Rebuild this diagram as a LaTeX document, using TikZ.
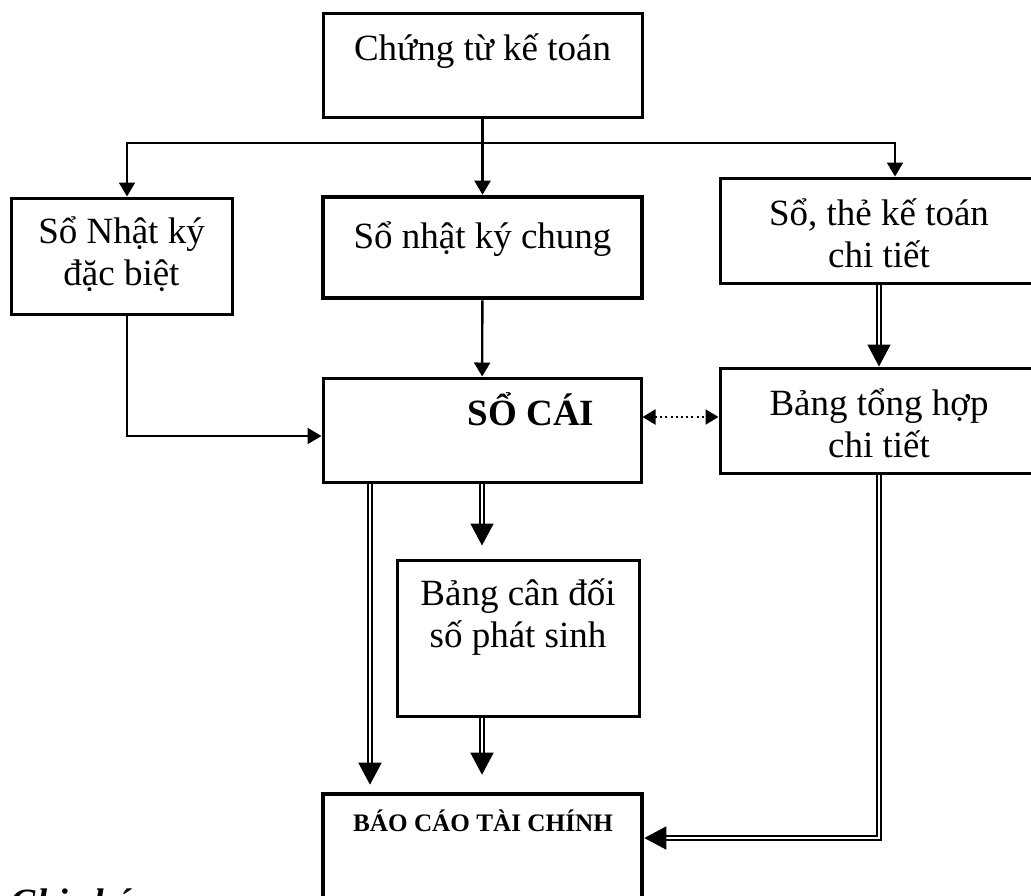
\documentclass[tikz,border=0pt]{standalone}
\usepackage{fontspec}
\setmainfont{Liberation Serif}
\usetikzlibrary{arrows.meta}
\newcommand\boxsize{\fontsize{18.5pt}{21pt}\selectfont}

\begin{document}
\begin{tikzpicture}[x=.5pt,y=-.5pt,line join=miter,
  box/.style={draw,line width=1.5pt,inner sep=0pt},
  heavy/.style={box,line width=2.3pt},
  caption/.style={anchor=base,font=\boxsize,inner sep=0pt},
  flow/.style={-{Triangle[length=7pt,width=8pt]},line width=1.2pt},
  twin/.style={-{Triangle[length=11pt,width=11.5pt]},double,double distance=1.2pt,line width=.8pt},
  link/.style={{Triangle[length=6.5pt,width=7.5pt]}-{Triangle[length=6.5pt,width=7.5pt]},
    line width=1pt,dash pattern=on 1pt off 1.6pt}]
  \useasboundingbox (0,0) rectangle (1031,895);
  \node[box,minimum width=159.5pt,minimum height=52pt] (voucher) at (482.5,65) {};
  \node[caption] (voucher-txt) at (482.5,60) {Chứng từ kế toán};
  \node[box,minimum width=110.5pt,minimum height=58pt] (special) at (121.5,256) {};
  \node[caption,align=center] (special-txt) at (121.5,285) {Sổ Nhật ký\\đặc biệt};
  \node[heavy,minimum width=159.5pt,minimum height=50.5pt] (journal) at (482.5,247.5) {};
  \node[caption] (journal-txt) at (482.5,248) {Sổ nhật ký chung};
  \node[box,minimum width=159pt,minimum height=52pt] (ledger) at (482,430) {};
  \node[caption,font=\boxsize\bfseries] (ledger-txt) at (531,425) {SỔ CÁI};
  \node[box,minimum width=159pt,minimum height=52.5pt] (detail) at (879,230.5) {};
  \node[caption,align=center] (detail-txt) at (879,267) {Sổ, thẻ kế toán\\chi tiết};
  \node[box,minimum width=159pt,minimum height=52.5pt] (summary) at (879,420.5) {};
  \node[caption,align=center] (summary-txt) at (879,457) {Bảng tổng hợp\\chi tiết};
  \node[box,minimum width=121pt,minimum height=78pt] (trial) at (518,638) {};
  \node[caption,align=center] (trial-txt) at (518,647) {Bảng cân đối\\số phát sinh};
  \node[heavy,minimum width=159.5pt,minimum height=78pt] (report) at (482.5,872) {};
  \node[caption,font=\fontsize{12.6pt}{15pt}\selectfont\bfseries] (report-txt) at (483,831) {BÁO CÁO TÀI CHÍNH};
  \node[anchor=base west,inner sep=0pt,font=\boxsize\bfseries\itshape] (legend) at (10,914) {Ghi chú:};
  \coordinate (split) at (482.5,143);
  \draw[flow] (voucher) -- (journal);
  \draw[flow,line width=1pt] (split) -| ([xshift=2.75pt]special.north);
  \draw[flow,line width=1pt] (split) -| ([xshift=8pt]detail.north);
  \draw[flow] (journal) -- (ledger);
  \draw[flow,line width=1pt] ([xshift=2.75pt]special.south) |- ([yshift=-3pt]ledger.west);
  \draw[link] ([yshift=1.75pt]ledger.east |- summary.west) -- ([yshift=1.75pt]summary.west);
  \draw[twin] (detail) -- (summary);
  \draw[twin,shorten >=6.5pt] (ledger) -- (ledger |- trial.north);
  \draw[twin,shorten >=3.5pt] ([xshift=-56pt]ledger.south) -- ([xshift=-56pt]ledger.south |- report.north);
  \draw[twin,shorten >=8.5pt] (trial.south -| ledger) -- (report.north -| ledger);
  \draw[twin] (summary.south) |- ([yshift=17pt]report.east);
\end{tikzpicture}
\end{document}
